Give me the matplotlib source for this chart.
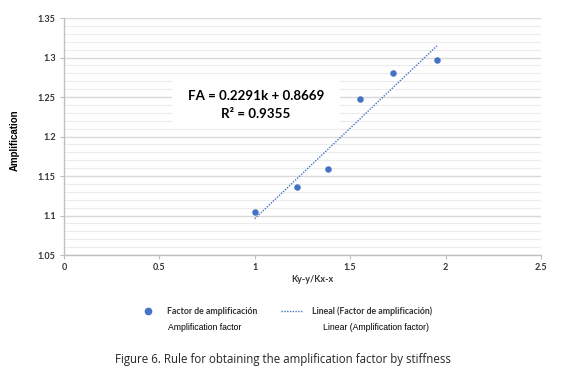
import numpy as np
import matplotlib
matplotlib.use("Agg")
import matplotlib.pyplot as plt
from matplotlib.ticker import MultipleLocator, FixedLocator
from matplotlib.patches import Rectangle
from matplotlib.lines import Line2D

# Data
k_ratio = [1.0, 1.221, 1.384, 1.551, 1.724, 1.955]
amp_factor = [1.104, 1.136, 1.159, 1.247, 1.280, 1.297]
slope = 0.2291
intercept = 0.8669
r2 = 0.9355
x_ticks = [0, 0.5, 1, 1.5, 2, 2.5]
x_tick_labels = ["0", "0.5", "1", "1.5", "2", "2.5"]
y_ticks = [1.05, 1.1, 1.15, 1.2, 1.25, 1.3, 1.35]
y_tick_labels = ["1.05", "1.1", "1.15", "1.2", "1.25", "1.3", "1.35"]

W, H = 569, 378
fig = plt.figure(figsize=(W / 100, H / 100), dpi=100)
fig.patch.set_facecolor("white")
ax = fig.add_axes([64 / W, 1 - 255 / H, (541 - 64) / W, (255 - 18) / H])

ax.set_xlim(0, 2.5)
ax.set_ylim(1.05, 1.35)

ax.xaxis.set_major_locator(FixedLocator(x_ticks))
ax.set_xticklabels(x_tick_labels)
ax.yaxis.set_major_locator(FixedLocator(y_ticks))
ax.set_yticklabels(y_tick_labels)
ax.yaxis.set_minor_locator(MultipleLocator(0.01))

ax.grid(which="major", axis="y", color="#d9d9d9", linewidth=1.0, zorder=0)
ax.grid(which="minor", axis="y", color="#ececec", linewidth=0.8, zorder=0)
ax.set_axisbelow(True)

for s in ["top", "right"]:
    ax.spines[s].set_visible(False)
for s in ["left", "bottom"]:
    ax.spines[s].set_color("#bfbfbf")
    ax.spines[s].set_linewidth(1.0)

ax.tick_params(axis="both", which="major", length=3, color="#bfbfbf",
               labelsize=6.5, labelcolor="#333333", pad=3)
ax.tick_params(axis="y", which="minor", length=0)
for lab in ax.get_xticklabels() + ax.get_yticklabels():
    lab.set_fontweight("bold")
    lab.set_family("Lato")

# White box behind the equation (pixel extents converted to figure coords)
ax_box = Rectangle((172 / W, 1 - 128 / H), (340 - 172) / W, (128 - 80) / H,
                   transform=fig.transFigure, facecolor="white", edgecolor="none",
                   zorder=1)
ax.add_artist(ax_box)

# Trendline
xs = np.array([min(k_ratio), max(k_ratio)])
ax.plot(xs, slope * xs + intercept, linestyle=(0, (1, 1)), color="#4472c4",
        linewidth=1.0, zorder=2)
ax.scatter(k_ratio, amp_factor, s=22, color="#4472c4", zorder=3, linewidths=0)

# Equation text
fig.text(256 / W, 1 - 96 / H, f"FA = {slope:.4f}k + {intercept:.4f}",
         ha="center", va="center", fontsize=9.6, fontweight="bold",
         family="Lato", color="black", zorder=5)
fig.text(256 / W, 1 - 114 / H, f"R² = {r2:.4f}",
         ha="center", va="center", fontsize=9.6, fontweight="bold",
         family=["Lato", "DejaVu Sans"], color="black", zorder=5)

fig.text(15 / W, 1 - 140 / H, "Amplification", rotation=90, ha="center",
         va="center", fontsize=7, fontweight="bold", family="Liberation Sans",
         color="black")
fig.text(312 / W, 1 - 280 / H, "Ky-y/Kx-x", ha="center", va="center",
         fontsize=6.5, fontweight="bold", family="Lato", color="#333333")

# Legend (manual, drawn in figure coords)
fig.lines.append(Line2D([148 / W], [1 - 311 / H], marker="o",
                        markersize=4.5, color="#4472c4", linestyle="none",
                        transform=fig.transFigure))
fig.lines.append(Line2D([281 / W, 303 / W], [1 - 311 / H] * 2,
                        linestyle=(0, (1, 1)), color="#4472c4", linewidth=1.0,
                        transform=fig.transFigure))
fig.text(167 / W, 1 - 311 / H, "Factor de amplificación", ha="left", va="center",
         fontsize=6.3, fontweight="bold", family="Lato", color="#333333")
fig.text(312 / W, 1 - 311 / H, "Lineal (Factor de amplificación)", ha="left",
         va="center", fontsize=6.3, fontweight="bold", family="Lato", color="#333333")
fig.text(168 / W, 1 - 328 / H, "Amplification factor", ha="left", va="center",
         fontsize=6.2, family="Liberation Sans", color="black")
fig.text(323 / W, 1 - 328 / H, "Linear (Amplification factor)", ha="left",
         va="center", fontsize=6.2, family="Liberation Sans", color="black")

fig.text(115 / W, 1 - 360 / H,
         "Figure 6. Rule for obtaining the amplification factor by stiffness",
         ha="left", va="center", fontsize=8.3, family="Open Sans", color="#262626")

fig.savefig("out.png", dpi=100)
